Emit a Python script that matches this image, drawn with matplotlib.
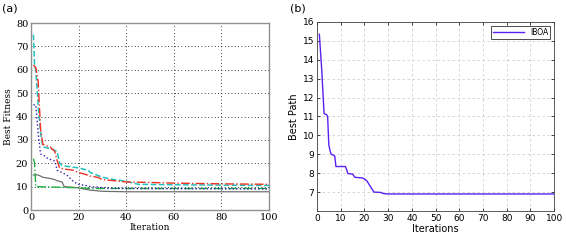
import matplotlib
matplotlib.use("Agg")
import matplotlib.pyplot as plt

# (a) convergence curves of the compared algorithms
red_x = [1, 2, 3, 4, 5, 8, 10, 11, 12, 14, 18, 20, 22, 25, 28, 30, 35, 40, 50, 60, 80, 100]
red_y = [62, 61, 55, 35, 28, 27, 25, 21, 18, 17.5, 17, 16, 15.5, 14.5, 14, 13, 12.5, 12, 11.8, 11.5, 11.2, 11]
cyan_x = [1, 1.5, 2, 3, 4, 5, 9, 11, 12, 13, 20, 24, 25, 30, 35, 40, 45, 60, 100]
cyan_y = [75, 62, 60, 45, 33, 27, 26, 25, 20, 19, 18, 17, 16, 14, 13, 12.3, 11, 10.8, 10.5]
blue_x = [1, 2, 3, 4, 6, 7, 10, 11, 13, 15, 18, 20, 23, 25, 28, 30, 40, 100]
blue_y = [45, 45, 33, 24, 23, 22, 21, 17, 16, 15, 12, 11, 10.5, 10, 9.8, 9.5, 9.2, 9]
gray_x = [1, 3, 5, 8, 10, 11, 13, 14, 20, 22, 25, 30, 40, 100]
gray_y = [15, 15, 14, 13.5, 13, 12.5, 12, 10, 9.5, 9, 8.5, 8, 7.8, 7.8]
green_x = [1, 1.5, 2, 10, 20, 25, 100]
green_y = [22, 20, 10, 9.8, 9.5, 9.2, 9.2]

# (b) IBOA best path
iboa_x = [1, 2, 3, 4, 4.5, 5, 5.5, 6, 7, 7.5, 8, 11, 12, 12.5, 13, 15, 16, 19, 20, 21,
          22, 23, 24, 27, 28, 30, 100]
iboa_y = [15.35, 13.5, 11.15, 11.1, 11.0, 9.5, 9.2, 9.0, 8.95, 8.9, 8.35, 8.35, 8.35, 8.2,
          7.98, 7.95, 7.78, 7.75, 7.7, 7.6, 7.4, 7.2, 7.0, 6.98, 6.92, 6.9, 6.9]

fig = plt.figure(figsize=(5.66, 2.40), dpi=100)

# ---- left panel
ax1 = fig.add_axes([0.0548, 0.125, 0.4205, 0.779])
ax1.plot(gray_x, gray_y, color='#707070', lw=0.9, ls='-')
ax1.plot(green_x, green_y, color='#20b040', lw=1.0, ls='-.')
ax1.plot(blue_x, blue_y, color='#3020b0', lw=1.0, ls=':')
ax1.plot(cyan_x, cyan_y, color='#20c0c0', lw=1.1, ls='--')
ax1.plot(red_x, red_y, color='#f03020', lw=1.0, ls='-.')
ax1.set_xlim(0, 100)
ax1.set_ylim(0, 80)
ax1.set_xticks(range(0, 101, 20))
ax1.set_yticks(range(0, 81, 10))
ax1.grid(True, color='black', ls=(0, (1, 3)), lw=0.6)
for s in ax1.spines.values():
    s.set_color('#909090')
    s.set_linewidth(1.0)
ax1.tick_params(length=0, labelsize=7, pad=2)
for lab in ax1.get_xticklabels() + ax1.get_yticklabels():
    lab.set_family('DejaVu Serif')
ax1.set_xlabel('Iteration', family='DejaVu Serif', fontsize=6.5, labelpad=1)
ax1.set_ylabel('Best Fitness', family='DejaVu Serif', fontsize=6.5, labelpad=2)

# ---- right panel
ax2 = fig.add_axes([0.560, 0.121, 0.419, 0.7875])
ax2.plot(iboa_x, iboa_y, color='#5a20f0', lw=1.0, label='IBOA')
ax2.set_xlim(0, 100)
ax2.set_ylim(6, 16)
ax2.set_xticks(range(0, 101, 10))
ax2.set_yticks(range(7, 17))
ax2.grid(True, color='#d0d0d0', ls=(0, (3, 3)), lw=0.6)
for s in ax2.spines.values():
    s.set_color('#404040')
    s.set_linewidth(0.6)
ax2.tick_params(labelsize=6.5, length=2, width=0.5, pad=2, direction='in', top=True, right=True)
ax2.set_xlabel('Iterations', fontsize=7, labelpad=1)
ax2.set_ylabel('Best Path', fontsize=7, labelpad=3)
leg = ax2.legend(loc='upper right', fontsize=5.5, fancybox=False, framealpha=1,
                 edgecolor='#303030', handlelength=4, borderpad=0.3)
leg.get_frame().set_linewidth(0.6)

fig.text(0.004, 0.965, '(a)', fontsize=8, va='center')
fig.text(0.512, 0.965, '(b)', fontsize=8, va='center')

fig.savefig('out.png', dpi=100)
